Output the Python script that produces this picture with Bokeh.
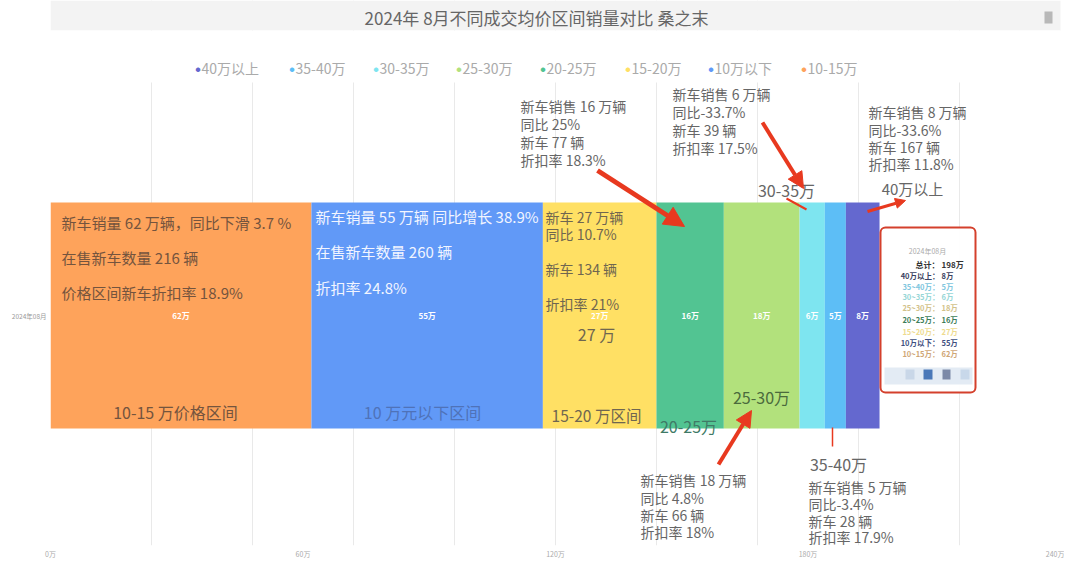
import numpy as np
from bokeh.plotting import figure
from bokeh.models import (ColumnDataSource, Range1d, FixedTicker, Label, Arrow,
                          NormalHead, BoxAnnotation)
from bokeh.core.properties import value
from bokeh.embed import file_html
from bokeh.resources import INLINE

# ---------------- data ----------------
title_text = "2024年 8月不同成交均价区间销量对比 桑之末"
period = "2024年08月"
segments = ["10-15万", "10万以下", "15-20万", "20-25万", "25-30万", "30-35万", "35-40万", "40万以上"]
sales = [62, 55, 27, 16, 18, 6, 5, 8]
colors = ["#FEA35B", "#6199F7", "#FFE064", "#52C492", "#B2E17C", "#7EE5F0", "#5DBEF6", "#6468CF"]
legend_names = ["40万以上", "35-40万", "30-35万", "25-30万", "20-25万", "15-20万", "10万以下", "10-15万"]
x_ticks = [0, 60, 120, 180, 240]
x_tick_labels = ["0万", "60万", "120万", "180万", "240万"]
grid_ticks = [0, 24, 48, 72, 96, 120, 144, 168, 192, 216, 240]
tooltip_names = ["40万以上", "35~40万", "30~35万", "25~30万", "20~25万", "15~20万", "10万以下", "10~15万"]
tooltip_total = "198万"

FONT = "Noto Sans CJK SC"
RED = "#E8391F"
FRAME_H = 545

# ---------------- figure ----------------
p = figure(frame_width=1010, frame_height=FRAME_H,
           x_range=Range1d(0, 240), y_range=Range1d(-FRAME_H, 0),
           output_backend="svg", toolbar_location=None,
           min_border_left=50, min_border_right=4, min_border_top=0, min_border_bottom=13)
p.outline_line_color = None
p.background_fill_color = "white"
p.border_fill_color = "white"

p.xgrid.ticker = FixedTicker(ticks=grid_ticks)
p.xgrid.grid_line_color = "#e9e9e9"
p.ygrid.visible = False

for ax in (p.xaxis, p.yaxis):
    ax.axis_line_color = None
    ax.major_tick_line_color = None
    ax.minor_tick_line_color = None
    ax.major_tick_out = 0
    ax.major_tick_in = 0
    ax.minor_tick_out = 0
    ax.minor_tick_in = 0
    ax.axis_label_standoff = 0
    ax.major_label_text_font = FONT

p.xaxis.ticker = FixedTicker(ticks=x_ticks)
p.xaxis.major_label_overrides = {t: s for t, s in zip(x_ticks, x_tick_labels)}
p.xaxis.major_label_text_font_size = "7px"
p.xaxis.major_label_text_color = "#aaaaaa"
p.xaxis.major_label_standoff = 3

BAR_Y = -315
p.yaxis.ticker = FixedTicker(ticks=[BAR_Y])
p.yaxis.major_label_overrides = {BAR_Y: period}
p.yaxis.major_label_text_font_size = "6.5px"
p.yaxis.major_label_text_color = "#999999"
p.yaxis.major_label_standoff = 4

# ---------------- bars ----------------
v = np.array(sales, dtype=float)
cum = np.cumsum(v)
src = ColumnDataSource(dict(
    seg=segments, v=sales, left=cum - v, right=cum, mid=cum - v / 2,
    color=colors, lab=[f"{s}万" for s in sales], y=[BAR_Y] * len(sales)))
p.hbar(y="y", left="left", right="right", height=226, fill_color="color",
       line_color=None, source=src)
p.text(x="mid", y="y", text="lab", text_align="center", text_baseline="middle",
       text_color="white", text_font_size="8px", text_font_style="bold",
       text_font=value(FONT), source=src)


def X(img_x):
    return (img_x - 50) * 240.0 / 1010.0


def lab(x, y, text, size, color, align="left", bold=False):
    p.add_layout(Label(x=X(x), y=-y, text=text, text_font=FONT,
                       text_font_size=f"{size}px", text_color=color,
                       text_align=align, text_baseline="middle",
                       text_font_style="bold" if bold else "normal"))


def block(x, ys, lines, size, color):
    for yy, t in zip(ys, lines):
        lab(x, yy, t, size, color)


# title band + cover for grid above the chart area
p.add_layout(BoxAnnotation(left=0, right=1064, left_units="screen", right_units="screen",
                           top=0, bottom=-30, fill_color="#f3f3f3", fill_alpha=1.0, line_color=None))
p.add_layout(BoxAnnotation(top=-30, bottom=-82, fill_color="white", fill_alpha=1.0, line_color=None))
p.add_layout(BoxAnnotation(left=X(1044), right=X(1052), top=-11, bottom=-23,
                           fill_color="#b8b8b8", fill_alpha=1.0, line_color=None))
lab(536, 17, title_text, 17, "#666666", align="center")

# legend
dot_x = [197, 291, 375, 458, 542, 627, 710, 803]
leg_colors = colors[::-1]
for dx, name, c in zip(dot_x, legend_names, leg_colors):
    lab(dx - 2, 68, "●", 5, c)
    lab(dx + 4, 67, name, 14, "#aaaaaa")

GRAY = "#666666"
# inside orange
block(61, [222, 257, 292], ["新车销量 62 万辆，同比下滑 3.7 %", "在售新车数量 216 辆", "价格区间新车折扣率 18.9%"], 15, "#74543e")
lab(175, 411, "10-15 万价格区间", 16, "#74543e", align="center")
# inside blue
block(315, [216, 251, 287], ["新车销量 55 万辆 同比增长 38.9%", "在售新车数量 260 辆", "折扣率 24.8%"], 15, "#f2f5ff")
lab(422, 411, "10 万元以下区间", 16, "#4f72b8", align="center")
# inside yellow
block(545, [216, 233, 268, 303], ["新车 27 万辆", "同比 10.7%", "新车 134 辆", "折扣率 21%"], 14, "#6f6650")
lab(596, 333, "27 万", 16, "#6f6650", align="center")
lab(596, 414, "15-20 万区间", 15.5, "#6f6650", align="center")
# green / light green
lab(688, 425, "20-25万", 16, "#3f7a66", align="center")
lab(761, 396, "25-30万", 16, "#4a6a3c", align="center")

# outside annotations
block(520, [105, 123, 141, 159], ["新车销售 16 万辆", "同比 25%", "新车 77 辆", "折扣率 18.3%"], 14, GRAY)
block(672, [93, 111, 129, 147], ["新车销售 6 万辆", "同比-33.7%", "新车 39 辆", "折扣率 17.5%"], 14, GRAY)
block(868, [111, 129, 146, 163], ["新车销售 8 万辆", "同比-33.6%", "新车 167 辆", "折扣率 11.8%"], 14, GRAY)
lab(786, 189, "30-35万", 16, GRAY, align="center")
lab(912, 188, "40万以上", 15, GRAY, align="center")
block(640, [479, 497, 514, 531], ["新车销售 18 万辆", "同比 4.8%", "新车 66 辆", "折扣率 18%"], 14, GRAY)
lab(838, 463, "35-40万", 16, GRAY, align="center")
block(808, [486, 503, 520, 536], ["新车销售 5 万辆", "同比-3.4%", "新车 28 辆", "折扣率 17.9%"], 14, GRAY)

# arrows
def arrow(x0, y0, x1, y1, w, head):
    end = NormalHead(size=head, fill_color=RED, line_color=RED) if head else None
    p.add_layout(Arrow(x_start=X(x0), y_start=-y0, x_end=X(x1), y_end=-y1,
                       line_color=RED, line_width=w, end=end))

arrow(597, 170, 684, 226, 5, 20)
arrow(762, 122, 803, 188, 4, 16)
arrow(786, 198, 806, 209, 2, 0)
arrow(867, 211, 905, 200, 3, 10)
arrow(718, 464, 751, 410, 4, 16)
arrow(832, 427, 832, 446, 1.5, 0)

# tooltip snapshot
p.add_layout(BoxAnnotation(left=X(880), right=X(975), top=-227, bottom=-392,
                           fill_color="white", fill_alpha=0.92, line_color="#D4402C",
                           line_alpha=1.0, line_width=2, border_radius=5))
lab(927, 250, period, 7, "#aaaaaa", align="center")
tip_colors = ["#3a3f60", "#80c6de", "#96d6d6", "#d2c28a", "#3d7d5a", "#eedb8e", "#3f4f80", "#cfa675"]
lab(939, 264, "总计：", 8, "#333333", align="right", bold=True)
lab(941, 264, tooltip_total, 8, "#333333", bold=True)
row_y = [275, 286, 296, 307, 319, 331, 342, 353]
for ry, name, val, c in zip(row_y, tooltip_names, sales[::-1], tip_colors):
    lab(939, ry, f"{name}：", 7.5, c, align="right", bold=True)
    lab(941, ry, f"{val}万", 7.5, c, bold=True)
p.add_layout(BoxAnnotation(left=X(884), right=X(972), top=-367, bottom=-384,
                           fill_color="#e3ebf4", fill_alpha=1.0, line_color=None))
for l, r, c in [(905, 914, "#c9d7e8"), (923, 932, "#4a78b8"), (942, 950, "#7c8aa8"), (960, 969, "#c8d8ea")]:
    p.add_layout(BoxAnnotation(left=X(l), right=X(r), top=-369, bottom=-379,
                               fill_color=c, fill_alpha=1.0, line_color=None))

open("out.html", "w").write(file_html(p, INLINE))
